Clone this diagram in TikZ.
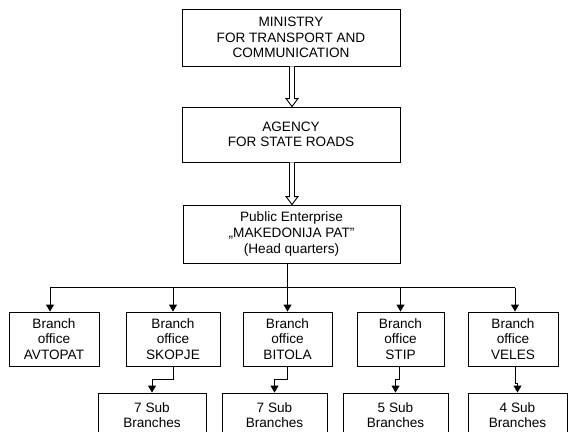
\documentclass[tikz,border=0pt]{standalone}
\usepackage{fontspec}
\setmainfont{Liberation Sans}
\usetikzlibrary{arrows.meta,calc}
\begin{document}
\begin{tikzpicture}[x=1pt,y=-1pt,
  box/.style={draw,line width=0.9pt,align=center,inner sep=0pt,
    font=\fontsize{13.6}{15.6}\selectfont},
  arr/.style={line width=0.9pt,-{Triangle[width=8pt,length=7pt]}},
  ln/.style={line width=0.9pt}]
\useasboundingbox (0,0) rectangle (569,431);
\clip (0,0) rectangle (569,431);
% top boxes
\node[box,minimum width=218pt,minimum height=57pt] (min) at (291,37.5)
  {MINISTRY\\FOR TRANSPORT AND\\COMMUNICATION};
\node[box,minimum width=218pt,minimum height=55pt] (agy) at (291,134.5)
  {AGENCY\\FOR STATE ROADS};
\node[box,minimum width=217pt,minimum height=58pt] (pe) at (291.5,234)
  {Public Enterprise\\„MAKEDONIJA PAT"\\(Head quarters)};
% hollow arrows
\foreach \a/\b in {min/agy,agy/pe}{
  \draw[ln,fill=white]
    let \p1=(\a.south), \p2=(\b.north) in
    (\x1+1-2.5,\y1) -- (\x1+1-2.5,\y2+8) -- (\x1+1-6,\y2+8) -- (\x1+1,\y2)
    -- (\x1+1+6,\y2+8) -- (\x1+1+2.5,\y2+8) -- (\x1+1+2.5,\y1);
}
% branch boxes
\node[box,minimum width=90pt,minimum height=54pt] (avt) at (54,339) {Branch\\office\\AVTOPAT};
\node[box,minimum width=94pt,minimum height=54pt] (sko) at (173,339) {Branch\\office\\SKOPJE};
\node[box,minimum width=89pt,minimum height=54pt] (bit) at (287.5,339) {Branch\\office\\BITOLA};
\node[box,minimum width=87pt,minimum height=54pt] (sti) at (400.5,339) {Branch\\office\\STIP};
\node[box,minimum width=90pt,minimum height=54pt] (vel) at (513,339) {Branch\\office\\VELES};
% sub boxes
\node[box,minimum width=108pt,minimum height=44pt] (s1) at (152,415) {7 Sub\\Branches};
\node[box,minimum width=105pt,minimum height=44pt] (s2) at (274.5,415) {7 Sub\\Branches};
\node[box,minimum width=105pt,minimum height=44pt] (s3) at (395.5,415) {5 Sub\\Branches};
\node[box,minimum width=99pt,minimum height=44pt] (s4) at (517.5,415) {4 Sub\\Branches};
% bus
\coordinate (bl) at ($(avt.north)+(-4,-24)$);
\coordinate (br) at ($(vel.north)+(2,-24)$);
\draw[ln] (bl) -- (br);
\draw[arr] (bl) -- (bl |- avt.north);
\draw[arr] (sko.north |- bl) -- (sko.north);
\draw[arr] (bit.north |- pe.south) -- (bit.north);
\draw[arr] (sti.north |- bl) -- (sti.north);
\draw[arr] (br) -- (br |- vel.north);
% elbows
\draw[arr] (sko.south) -- ++(0,13) -| (s1.north);
\draw[arr] (bit.south) -- ++(0,13) -| (s2.north);
\draw[arr] ($(sti.south)+(-1.5,0)$) -- ++(0,13) -| (s3.north);
\draw[arr] ($(vel.south)+(2,0)$) -- ++(0,17) -| (s4.north);
\end{tikzpicture}
\end{document}
